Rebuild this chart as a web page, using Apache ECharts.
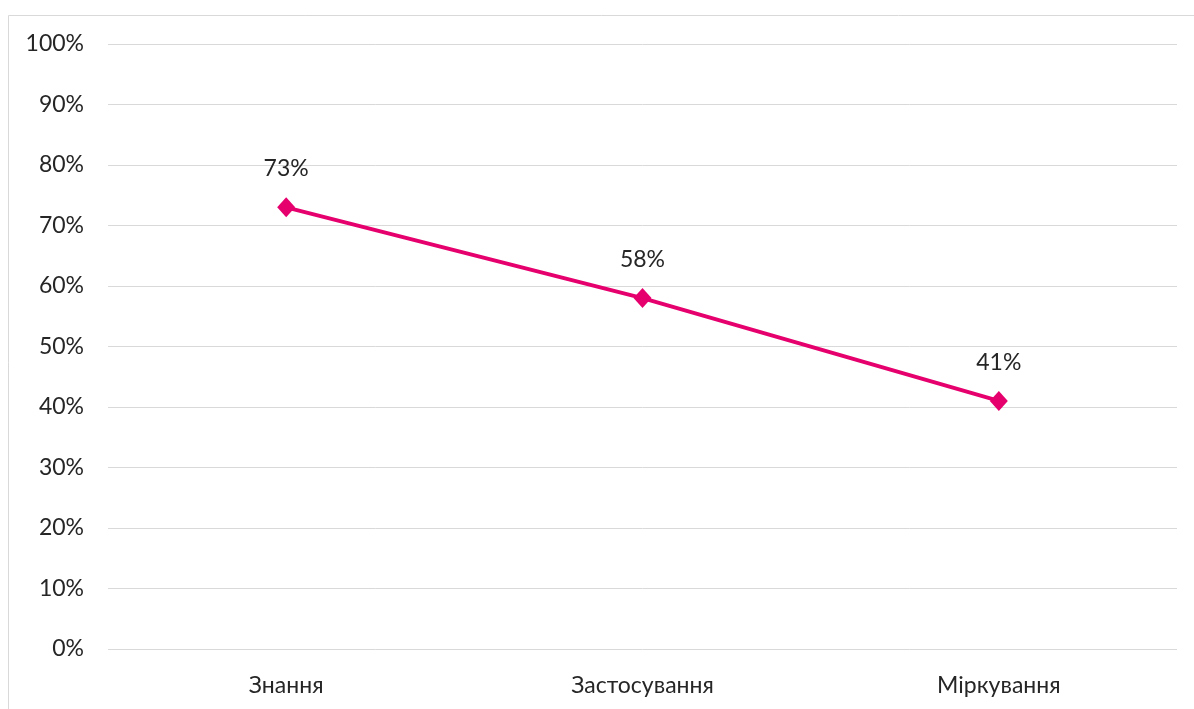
<!DOCTYPE html>
<html>
<head>
<meta charset="utf-8">
<script src="https://cdn.jsdelivr.net/npm/echarts@6/dist/echarts.min.js"></script>
<style>
  html, body { margin: 0; padding: 0; background: #fff; }
  #chart { width: 1194px; height: 709px; }
</style>
</head>
<body>
<div id="chart"></div>
<script>
// Share of correct answers by cognitive domain
const categories = ['Знання', 'Застосування', 'Міркування'];
const values = [0.73, 0.58, 0.41];
const yTicks = [0, 0.1, 0.2, 0.3, 0.4, 0.5, 0.6, 0.7, 0.8, 0.9, 1.0];

const FONT = 'Lato, "Open Sans", "Noto Sans", sans-serif';
const FONT_SIZE = 23;
const pct = v => Math.round(v * 100) + '%';

const chart = echarts.init(document.getElementById('chart'), null, { renderer: 'canvas' });
chart.setOption({
  backgroundColor: '#ffffff',
  animation: false,
  graphic: [{
    type: 'rect',
    shape: { x: 8.5, y: 15.5, width: 1200, height: 720 },
    style: { fill: 'none', stroke: '#d9d9d9', lineWidth: 1 },
    silent: true,
    z: -1
  }],
  grid: { left: 108, right: 17, top: 44, bottom: 60 },
  xAxis: {
    type: 'category',
    data: categories,
    boundaryGap: true,
    axisLine: { show: false },
    axisTick: { show: false },
    axisLabel: { color: '#262626', fontFamily: FONT, fontSize: FONT_SIZE, margin: 25 }
  },
  yAxis: {
    type: 'value',
    min: yTicks[0],
    max: yTicks[yTicks.length - 1],
    interval: 0.1,
    axisLine: { show: false },
    axisTick: { show: false },
    splitLine: { lineStyle: { color: '#d9d9d9', width: 1 } },
    axisLabel: { color: '#262626', fontFamily: FONT, fontSize: FONT_SIZE, margin: 24, formatter: pct }
  },
  series: [{
    type: 'line',
    data: values,
    symbol: 'diamond',
    symbolSize: [18, 20],
    lineStyle: { color: '#e5006d', width: 4 },
    itemStyle: { color: '#e5006d' },
    label: {
      show: true,
      position: 'top',
      distance: 17,
      color: '#262626',
      fontFamily: FONT,
      fontSize: FONT_SIZE,
      formatter: p => pct(p.value)
    }
  }]
});
</script>
</body>
</html>
